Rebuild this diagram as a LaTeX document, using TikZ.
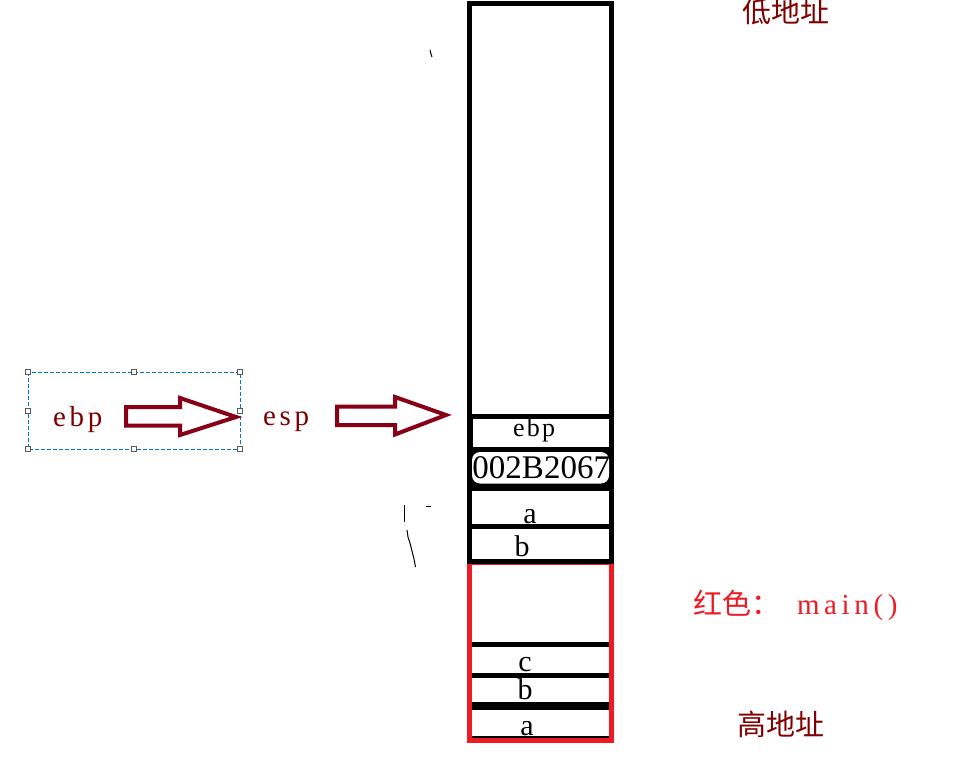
\documentclass[tikz,border=0pt]{standalone}
\usepackage{fontspec}
\setmainfont{Liberation Serif}
\newfontfamily\cjkfont{Noto Sans CJK SC}
\newfontfamily\wideserif[LetterSpace=13]{Liberation Serif}
\newfontfamily\cellserif[LetterSpace=9]{Liberation Serif}
\newfontfamily\mainserif[LetterSpace=16]{Liberation Serif}
\definecolor{arrowred}{RGB}{136,0,21}
\definecolor{textred}{RGB}{128,0,0}
\definecolor{mainred}{RGB}{237,28,36}
\definecolor{selblue}{RGB}{0,120,215}
\definecolor{handlegray}{RGB}{90,90,90}
\tikzset{
  colline/.style={draw=black, line width=5pt},
  blockarrow/.style={draw=arrowred, line width=4pt, fill=white, line join=miter},
  txt/.style={inner sep=0pt, outer sep=0pt, anchor=base},
  txtw/.style={inner sep=0pt, outer sep=0pt, anchor=base west},
  handlebox/.style={draw=handlegray, fill=white, line width=0.8pt, minimum size=5pt, inner sep=0pt, rectangle},
  stray/.style={draw=black, line width=1pt}
}
\begin{document}
\begin{tikzpicture}[x=1pt,y=-1pt]
\useasboundingbox (0,0) rectangle (968,762);
\fill[white] (0,0) rectangle (968,762);

% selection box
\draw[selblue, line width=1pt, dash pattern=on 4pt off 2pt] (28,372) rectangle (240,449);
\foreach \p [count=\i] in {(28,372),(134,372),(240,372),(28,411),(240,411),(28,449),(134,449),(240,449)}
  \node[handlebox] (h\i) at \p {};

% left labels and block arrows
\node[txtw, text=textred, font=\wideserif\fontsize{29}{29}\selectfont] (ebplabel) at (53,426) {ebp};
\draw[blockarrow] (126,407)--(180,407)--(180,398)--(236,417)--(180,435)--(180,425.5)--(126,425.5)--cycle;
\node[txtw, text=textred, font=\wideserif\fontsize{29}{29}\selectfont] (esplabel) at (263,425) {esp};
\draw[blockarrow] (337,406.5)--(395,406.5)--(395,397)--(446,415)--(395,434.5)--(395,425)--(337,425)--cycle;

% red main() frame
\draw[mainred, line width=5.5pt] (469.5,562) rectangle (611.5,740.5);

% main column
\draw[colline] (469.5,3.5) rectangle (611,561);

% texts in cells
\node[txtw, font=\cellserif\fontsize{26}{26}\selectfont] (ebpcell) at (513,436) {ebp};
\node[txt, font=\fontsize{30}{30}\selectfont] (acell1) at (530,523) {a};
\node[txt, font=\fontsize{30}{30}\selectfont] (bcell1) at (522,556) {b};
\node[txt, font=\fontsize{30}{30}\selectfont] (ccell) at (525,671) {c};
\node[txt, font=\fontsize{30}{30}\selectfont] (bcell2) at (525,699) {b};
\node[txt, font=\fontsize{30}{30}\selectfont] (acell2) at (527,735) {a};

% ebp cell
\draw[colline] (470.5,416) rectangle (611.5,449.5);
% return address cell
\fill[black] (468,447) rectangle (613,489);
\fill[white, rounded corners=8pt] (472,452) rectangle (609,483.5);
\begin{scope}
  \clip (472,452) rectangle (609.5,483.5);
  \node[inner sep=0pt, outer sep=0pt, anchor=base east, font=\fontsize{33}{33}\selectfont] (retaddr) at (610,478.5) {002B2067};
\end{scope}
% a cell and b cell
\draw[colline] (469.5,488) rectangle (611.5,526);
\draw[colline] (469.5,526) -- (469.5,561);

% lines inside the red frame
\draw[black, line width=5pt] (472,644.5) -- (609,644.5);
\draw[black, line width=5pt] (472,675.5) -- (609,675.5);
\draw[black, line width=8pt] (472,706) -- (609,706);
\draw[black, line width=2.5pt] (472,737) -- (609,737);

% address labels
\node[txtw, text=textred, font=\cjkfont\fontsize{29}{29}\selectfont] (lowaddr) at (742,23) {低地址};
\node[txtw, text=textred, font=\cjkfont\fontsize{29}{29}\selectfont] (highaddr) at (737,735) {高地址};
\node[txtw, text=mainred, font=\fontsize{29}{29}\selectfont] (mainlabel) at (693,614) {{\cjkfont 红色：}\hspace{17pt}{\mainserif\fontsize{29}{29}\selectfont main()}};

% stray marks
\draw[stray] (430,50) -- (431,54) -- (432,57);
\draw[stray] (404,505) -- (404,522);
\draw[stray] (426,506.5) -- (431,506.5);
\draw[stray] (407,530) -- (408,537) -- (410,543) -- (412,551) -- (414,559) -- (415.5,567);
\end{tikzpicture}
\end{document}
